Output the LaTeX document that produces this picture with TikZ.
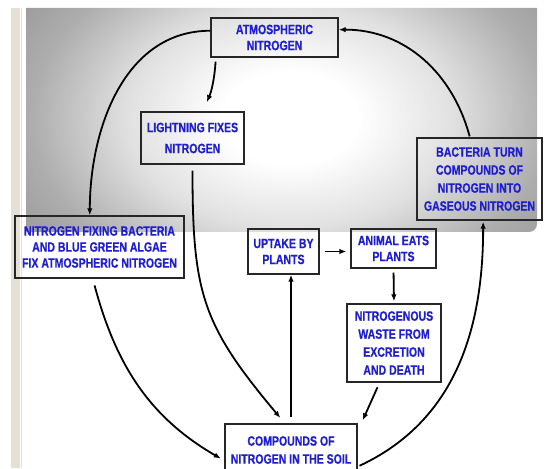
\documentclass[tikz,border=0pt]{standalone}
\usepackage{fontspec}
\newfontfamily\labelfont{Liberation Sans Bold}[FakeStretch=0.78,FakeBold=0.6]
\usetikzlibrary{arrows.meta,calc}
\tikzset{>={Latex[length=7pt,width=5.5pt]}}
\definecolor{labelblue}{RGB}{30,30,205}
\definecolor{slideedge}{RGB}{228,224,212}
\pgfdeclareradialshading{slideglow}{\pgfpoint{0bp}{0bp}}{color(0bp)=(white);
  color(5bp)=(white);color(12bp)=(black!12);color(19bp)=(black!32);color(25bp)=(black!42);color(50bp)=(black!42)}
\tikzset{
  cyclebox/.style={draw=black!85,line width=1.4pt,align=center,text=labelblue,inner sep=1pt,
    font=\labelfont\fontsize{13.5}{16}\selectfont},
  loosebox/.style={font=\labelfont\fontsize{13.5}{18}\selectfont},
  flow/.style={->,line width=1.8pt}
}
\begin{document}
\begin{tikzpicture}[x=1pt,y=1pt]
\useasboundingbox (0,0) rectangle (545,468);
% slide background
\fill[white] (0,0) rectangle (545,468);
\fill[slideedge] (11,0) rectangle (20,460);
\draw[black!12,line width=0.8pt] (21,0) -- (21,460);
\begin{scope}
\clip (26,460) -- (537,460) -- (537,244)
  arc[start angle=0,end angle=-90,radius=8] -- (26,236) -- cycle;
\shade[shading=slideglow] (290,350) ellipse[x radius=340,y radius=230];
\end{scope}
% boxes
\node[cyclebox,minimum width=127pt,minimum height=39pt] (atm) at (274.5,430.5) {ATMOSPHERIC\\NITROGEN};
\node[cyclebox,font=\labelfont\fontsize{13.5}{21}\selectfont,minimum width=103pt,minimum height=52pt] (light) at (192.5,330) {LIGHTNING FIXES\\NITROGEN};
\node[cyclebox,loosebox,minimum width=125pt,minimum height=82pt] (bact) at (479.5,289) {BACTERIA TURN\\COMPOUNDS OF\\NITROGEN INTO\\GASEOUS NITROGEN};
\node[cyclebox,minimum width=169pt,minimum height=62pt] (fix) at (99.5,221) {NITROGEN FIXING BACTERIA\\AND BLUE GREEN ALGAE\\FIX ATMOSPHERIC NITROGEN};
\node[cyclebox,minimum width=71pt,minimum height=45pt] (uptake) at (283.5,216.5) {UPTAKE BY\\PLANTS};
\node[cyclebox,minimum width=85pt,minimum height=39pt] (animal) at (393.5,219.5) {ANIMAL EATS\\PLANTS};
\node[cyclebox,loosebox,minimum width=94pt,minimum height=78pt] (waste) at (394,125) {NITROGENOUS\\WASTE FROM\\EXCRETION\\AND DEATH};
\node[cyclebox,loosebox,minimum width=132pt,minimum height=52pt] (soil) at (291,18) {COMPOUNDS OF\\NITROGEN IN THE SOIL};
% arrows
\draw[flow] (atm.174) to[out=180,in=90] (fix.107);
\draw[flow,shorten <=4pt,shorten >=10pt] (atm.199) to[bend left=10] (light.69);
\draw[flow,shorten <=6pt,shorten >=7pt] (light.south) to[out=-90,in=130,looseness=1.2] (soil.103);
\draw[flow,shorten <=7pt,shorten >=4pt] (fix.258) to[out=-75,in=150] (soil.189);
\draw[flow,shorten <=6pt] (soil.north) -- (soil.north |- uptake.south);
\draw[flow,shorten <=5pt,shorten >=4pt] (uptake.east) -- (uptake.east -| animal.west);
\draw[flow,shorten <=4pt,shorten >=2pt] (animal.south) -- (waste.north);
\draw[flow,shorten <=5pt] (waste.250) -- ($(soil.north east)+(5,3)$);
\draw[flow,shorten <=2pt,shorten >=1pt] (soil.-14) to[out=25,in=-90] (bact.275);
\draw[flow,shorten <=1pt] (bact.103) to[out=105,in=0] (atm.7);
\end{tikzpicture}
\end{document}
